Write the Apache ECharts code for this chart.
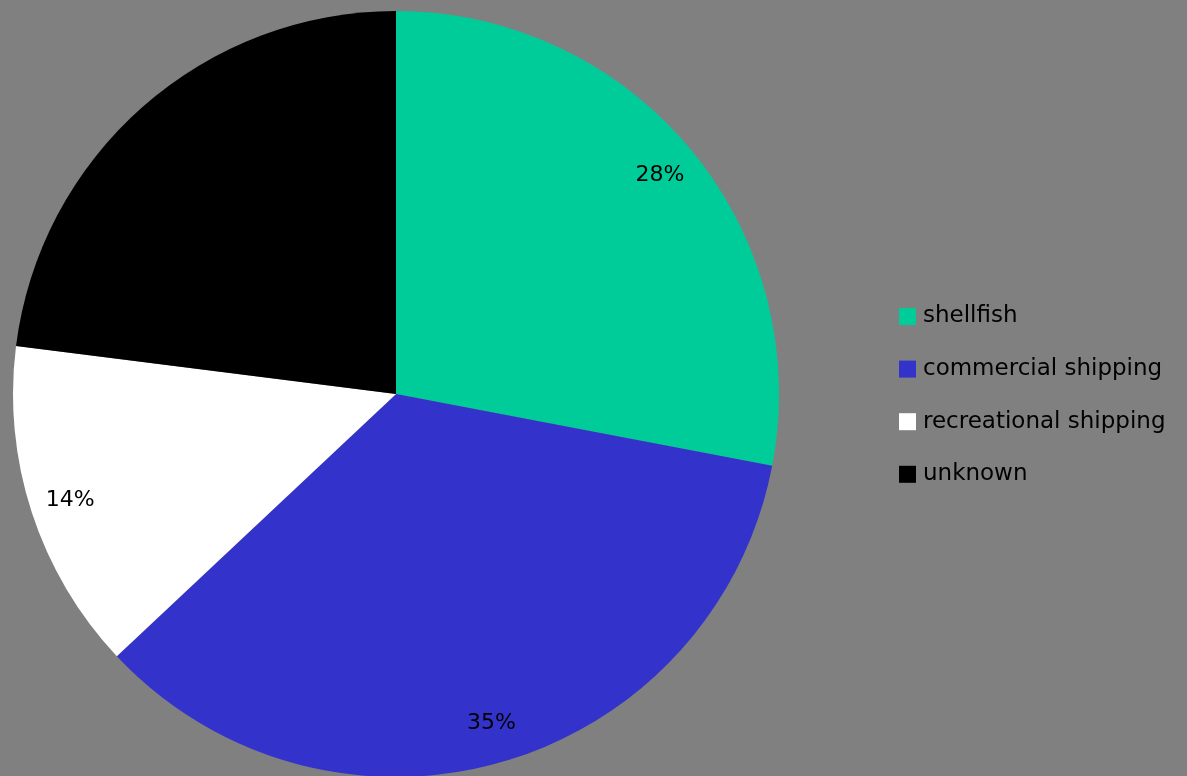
<!DOCTYPE html>
<html><head><meta charset="utf-8">
<script src="https://cdn.jsdelivr.net/npm/echarts@6/dist/echarts.min.js"></script>
<style>html,body{margin:0;padding:0;background:#808080}#c{width:1187px;height:776px}</style>
</head><body><div id="c"></div>
<script>
const categories = ['shellfish', 'commercial shipping', 'recreational shipping', 'unknown'];
const values = [28, 35, 14, 23];
const colors = ['#00CC99', '#3333CC', '#FFFFFF', '#000000'];
const FONT = '"Comic Sans MS", "DejaVu Sans", sans-serif';
const data = categories.map((n, i) => ({ name: n, value: values[i], itemStyle: { color: colors[i] } }));
const chart = echarts.init(document.getElementById('c'));
chart.setOption({
  backgroundColor: '#808080',
  animation: false,
  legend: {
    orient: 'vertical', left: 894, top: 300,
    itemWidth: 17, itemHeight: 17, itemGap: 29.6,
    icon: 'rect',
    textStyle: { fontFamily: FONT, fontSize: 23, lineHeight: 22, color: '#000', padding: [0, 0, 0, 2] },
    data: categories
  },
  series: [
    {
      type: 'pie', center: [396, 394], radius: 383, startAngle: 90, clockwise: true,
      label: { show: false }, labelLine: { show: false },
      emphasis: { disabled: true },
      data: data
    },
    {
      type: 'pie', center: [396, 394], radius: [296, 383], startAngle: 90, clockwise: true,
      silent: true,
      itemStyle: { color: 'rgba(0,0,0,0)' },
      label: { show: true, position: 'inside', formatter: '{d}%', fontFamily: FONT, fontSize: 22, color: '#000' },
      labelLine: { show: false },
      data: categories.map((n, i) => ({ name: n, value: values[i], itemStyle: { color: 'rgba(0,0,0,0)' } }))
    }
  ]
});
</script></body></html>
